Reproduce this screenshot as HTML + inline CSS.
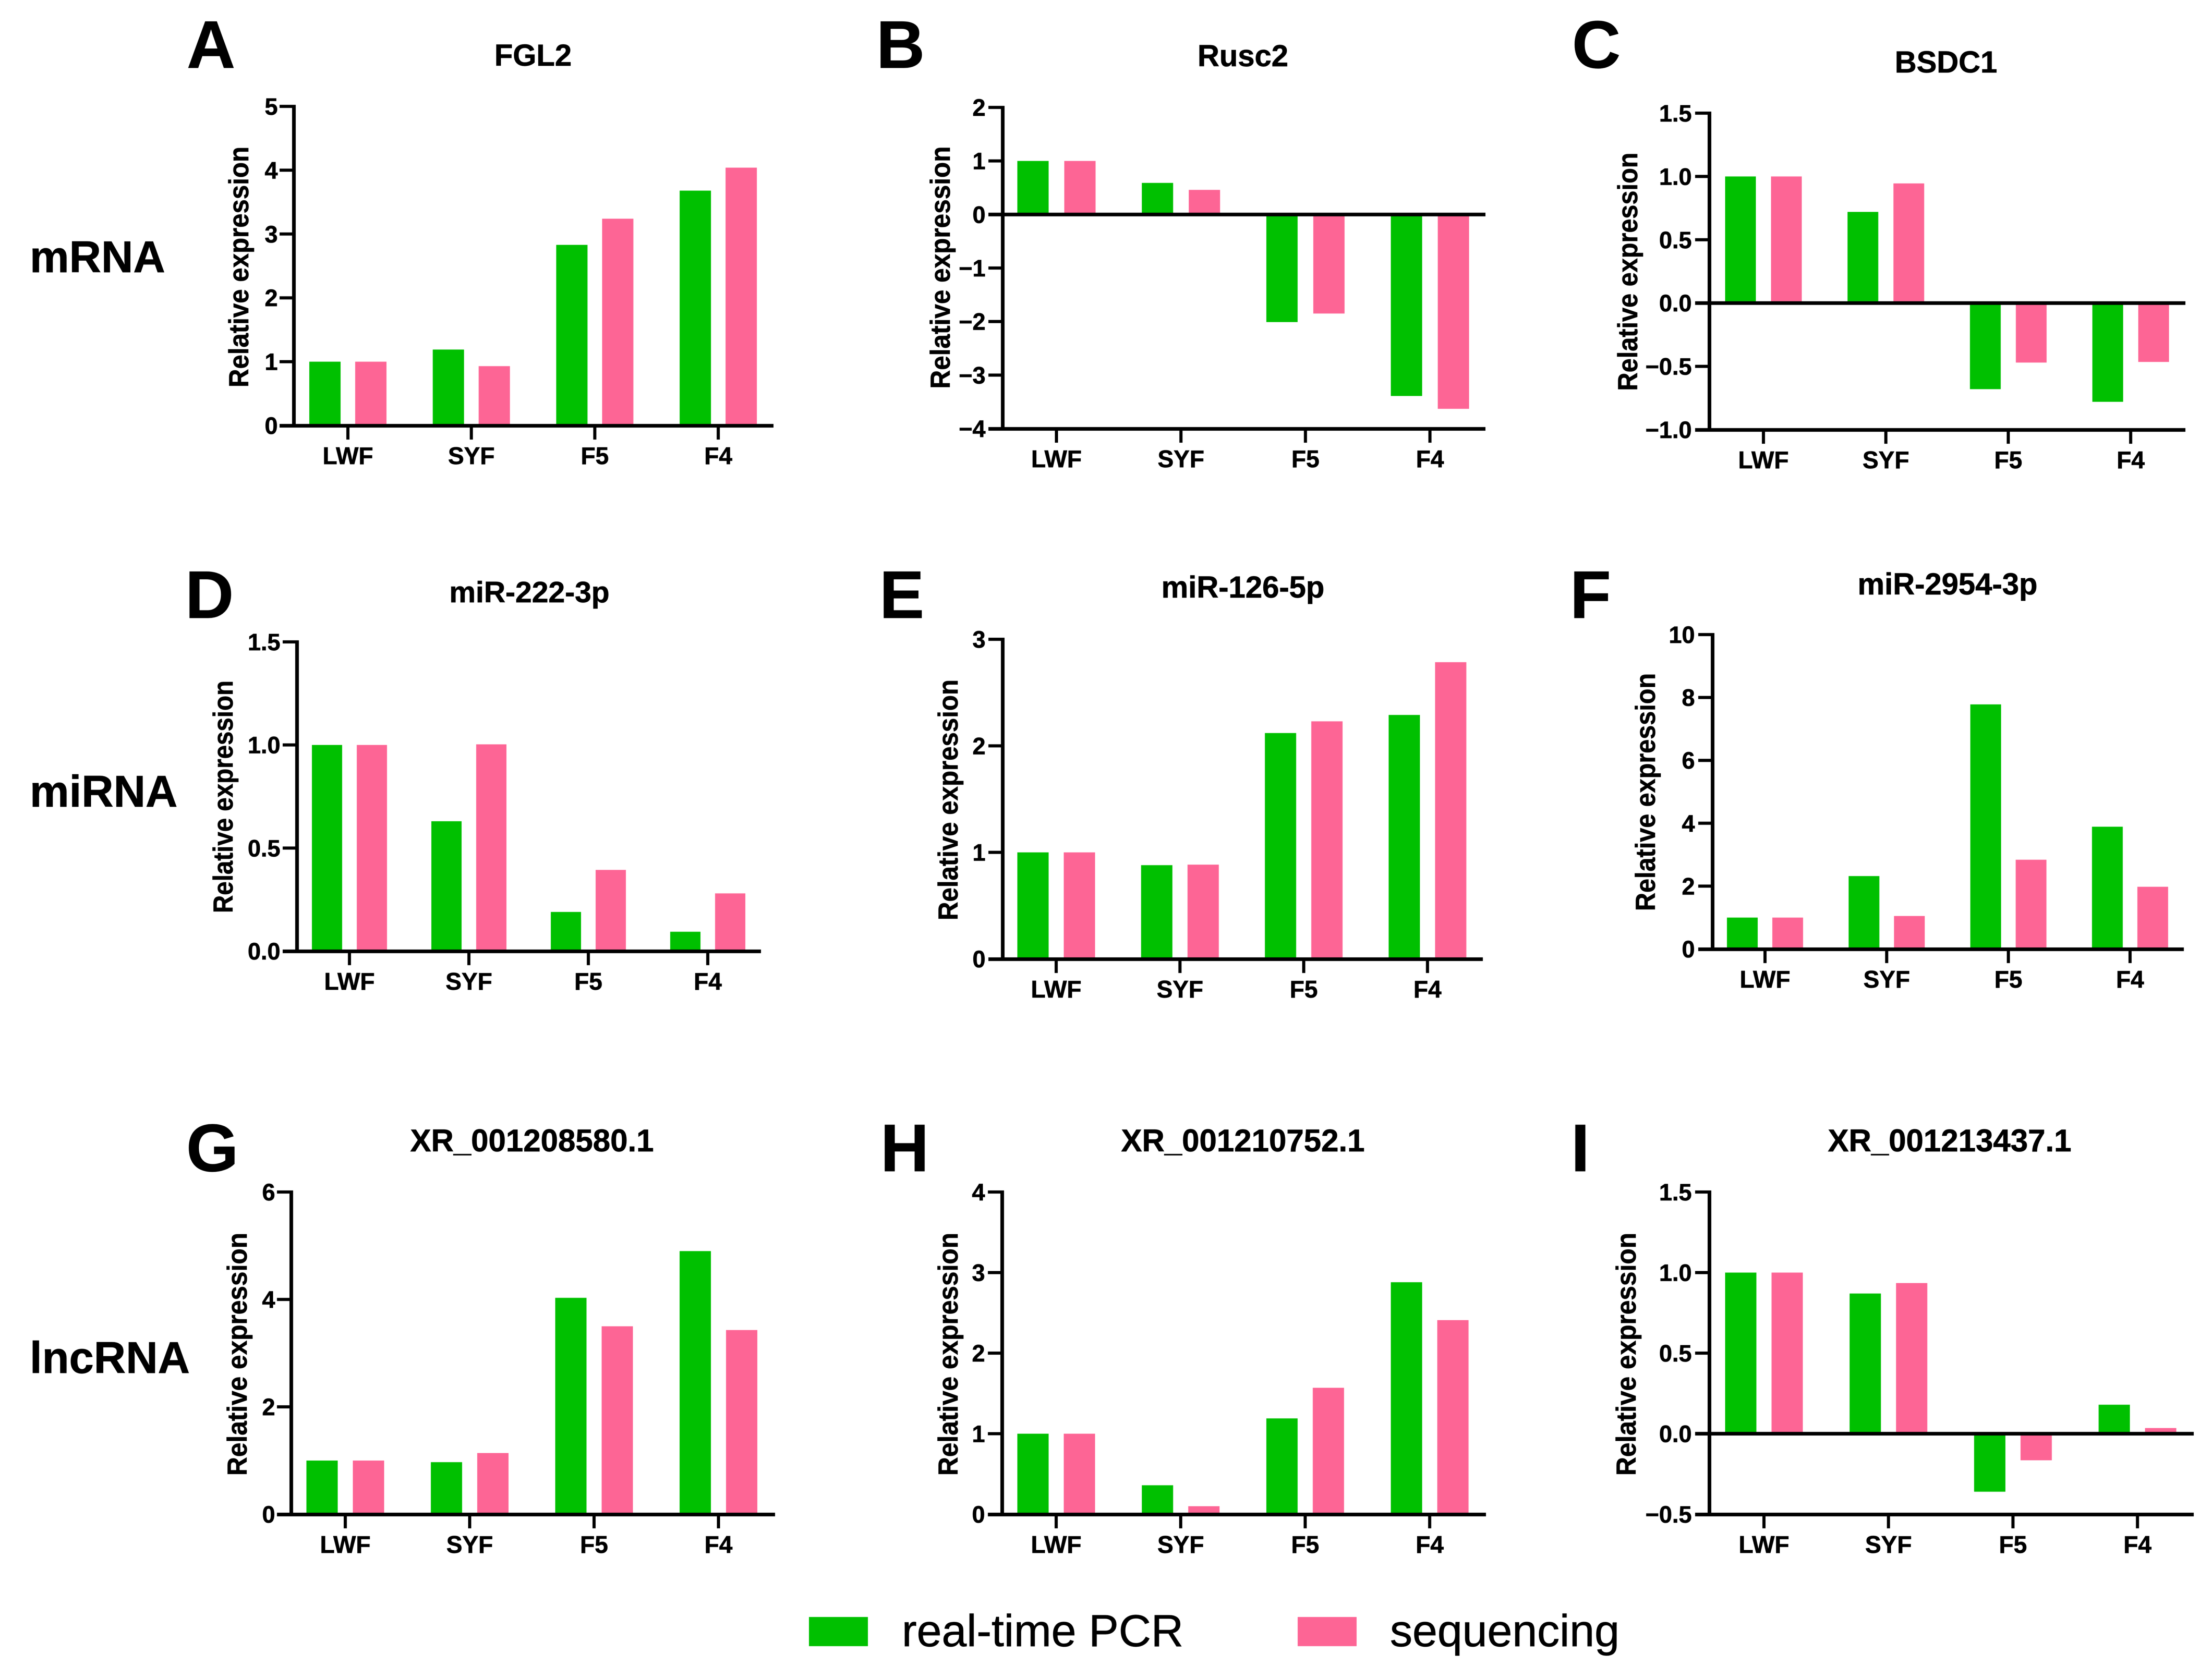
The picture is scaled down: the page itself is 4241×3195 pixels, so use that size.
<!DOCTYPE html>
<html lang="en">
<head>
<meta charset="utf-8">
<title>Relative expression validation: real-time PCR vs sequencing</title>
<style>
html,body{margin:0;padding:0;background:#fff;}
svg{display:block;font-family:"Liberation Sans",Arial,sans-serif;filter:blur(0.8px);}
svg text{stroke:#000;stroke-width:0.7px;}
.letter{font-size:129px;font-weight:700;fill:#000;}
.row{font-size:85px;font-weight:700;fill:#000;}
.title{font-size:58px;font-weight:700;fill:#000;text-anchor:middle;}
.title-long{font-size:60px;}
.legend{font-size:86px;fill:#000;}
</style>
</head>
<body>
<svg id="figure" xmlns="http://www.w3.org/2000/svg" width="4241" height="3195" viewBox="0 0 4241 3195">
  <rect x="0" y="0" width="4241" height="3195" fill="#ffffff"/>

  <text class="row" x="57" y="522">mRNA</text>
  <text class="row" x="57" y="1547">miRNA</text>
  <text class="row" x="57" y="2633">lncRNA</text>

  <g id="panel-a">
    <text class="letter" x="358" y="130">A</text>
    <text class="title" x="1022" y="126">FGL2</text>
  </g>
  <g id="panel-b">
    <text class="letter" x="1680" y="130">B</text>
    <text class="title" x="2383" y="127">Rusc2</text>
  </g>
  <g id="panel-c">
    <text class="letter" x="3014" y="130">C</text>
    <text class="title" x="3731" y="139">BSDC1</text>
  </g>
  <g id="panel-d">
    <text class="letter" x="355" y="1185">D</text>
    <text class="title" x="1015" y="1155" style="font-size:57px">miR-222-3p</text>
  </g>
  <g id="panel-e">
    <text class="letter" x="1686" y="1185">E</text>
    <text class="title" x="2383" y="1146">miR-126-5p</text>
  </g>
  <g id="panel-f">
    <text class="letter" x="3010" y="1185">F</text>
    <text class="title" x="3734" y="1140">miR-2954-3p</text>
  </g>
  <g id="panel-g">
    <text class="letter" x="357" y="2246">G</text>
    <text class="title title-long" x="1020" y="2208">XR_001208580.1</text>
  </g>
  <g id="panel-h">
    <text class="letter" x="1688" y="2246">H</text>
    <text class="title title-long" x="2383" y="2208">XR_001210752.1</text>
  </g>
  <g id="panel-i">
    <text class="letter" x="3012" y="2246">I</text>
    <text class="title title-long" x="3738" y="2208">XR_001213437.1</text>
  </g>

  <g id="legend">
    <rect x="1551" y="3101" width="113" height="56" fill="#00C000"/>
    <text class="legend" x="1729" y="3157">real-time PCR</text>
    <rect x="2488" y="3101" width="113" height="56" fill="#FD6595"/>
    <text class="legend" x="2665" y="3157">sequencing</text>
  </g>
</svg>

<script>
// Data
const categories = ['LWF', 'SYF', 'F5', 'F4'];

const fgl2Pcr = [1, 1.19, 2.83, 3.68];
const fgl2Seq = [1, 0.93, 3.24, 4.04];
const fgl2Ticks = [0, 1, 2, 3, 4, 5];

const rusc2Pcr = [1, 0.59, -2.01, -3.39];
const rusc2Seq = [1, 0.46, -1.85, -3.63];
const rusc2Ticks = [-4, -3, -2, -1, 0, 1, 2];

const bsdc1Pcr = [1, 0.72, -0.68, -0.78];
const bsdc1Seq = [1, 0.945, -0.47, -0.465];
const bsdc1Ticks = [-1, -0.5, 0, 0.5, 1, 1.5];

const mir222Pcr = [1, 0.63, 0.19, 0.094];
const mir222Seq = [1, 1.003, 0.394, 0.28];
const mir222Ticks = [0, 0.5, 1, 1.5];

const mir126Pcr = [1, 0.88, 2.12, 2.29];
const mir126Seq = [1, 0.885, 2.23, 2.785];
const mir126Ticks = [0, 1, 2, 3];

const mir2954Pcr = [1, 2.32, 7.78, 3.89];
const mir2954Seq = [1, 1.05, 2.84, 1.98];
const mir2954Ticks = [0, 2, 4, 6, 8, 10];

const xr580Pcr = [1, 0.97, 4.03, 4.9];
const xr580Seq = [1, 1.14, 3.5, 3.43];
const xr580Ticks = [0, 2, 4, 6];

const xr752Pcr = [1, 0.36, 1.19, 2.88];
const xr752Seq = [1, 0.1, 1.57, 2.41];
const xr752Ticks = [0, 1, 2, 3, 4];

const xr437Pcr = [1, 0.87, -0.36, 0.18];
const xr437Seq = [1, 0.935, -0.165, 0.035];
const xr437Ticks = [-0.5, 0, 0.5, 1, 1.5];

const axisTitle = 'Relative expression';
const GREEN = '#00C000';
const PINK = '#FD6595';
const SVGNS = 'http://www.w3.org/2000/svg';

function make(parent, tag, props, text) {
  const el = document.createElementNS(SVGNS, tag);
  for (const k in props) el.setAttribute(k, props[k]);
  if (text !== undefined) el.textContent = text;
  parent.appendChild(el);
  return el;
}

function formatTick(v, decimals) {
  return (v < 0 ? '\u2212' : '') + Math.abs(v).toFixed(decimals);
}

function drawChart(id, pcr, seq, ticks, decimals, frame) {
  const root = document.getElementById(id);
  const minV = ticks[0];
  const maxV = ticks[ticks.length - 1];
  const yScale = v => frame.bottom - (v - minV) / (maxV - minV) * (frame.bottom - frame.top);
  const xScale = i => frame.firstCat + i * frame.step;
  const zeroY = yScale(0);

  categories.forEach((cat, i) => {
    const cx = xScale(i);
    [[pcr, GREEN, -1, 'pcr'], [seq, PINK, 1, 'sequencing']].forEach(series => {
      const v = series[0][i];
      const yv = yScale(v);
      const bar = make(root, 'rect', {
        x: cx + series[2] * frame.off - frame.barW / 2,
        y: Math.min(yv, zeroY),
        width: frame.barW,
        height: Math.abs(yv - zeroY),
        fill: series[1]
      });
      
      
    });
  });

  const yAxis = make(root, 'line', {x1: frame.axisX - 0.5, x2: frame.axisX - 0.5, y1: frame.top - 3, y2: frame.bottom + 3, stroke: '#000', 'stroke-width': 7});
  
  

  const xAxis = make(root, 'line', {x1: frame.axisX - 28, x2: frame.endX, y1: frame.bottom + 0.5, y2: frame.bottom + 0.5, stroke: '#000', 'stroke-width': 7});
  
  

  if (minV < 0) {
    const zeroLine = make(root, 'line', {x1: frame.axisX - 28, x2: frame.endX, y1: zeroY, y2: zeroY, stroke: '#000', 'stroke-width': 7});
    
    
  }

  ticks.forEach(t => {
    const y = yScale(t);
    const mark = make(root, 'line', {x1: frame.axisX - 28, x2: frame.axisX, y1: y, y2: y, stroke: '#000', 'stroke-width': 6});
    
    
    const label = make(root, 'text', {
      x: frame.axisX - frame.tickGap, y: y + 16,
      'font-size': 45, 'font-weight': 700, 'text-anchor': 'end', fill: '#000'
    }, formatTick(t, decimals));
    
    
  });

  categories.forEach((cat, i) => {
    const cx = xScale(i);
    const mark = make(root, 'line', {x1: cx, x2: cx, y1: frame.bottom, y2: frame.bottom + 27, stroke: '#000', 'stroke-width': 6});
    
    
    const label = make(root, 'text', {
      x: cx, y: frame.bottom + 74,
      'font-size': 46, 'font-weight': 700, 'text-anchor': 'middle', fill: '#000'
    }, cat);
    
    
  });

  const yTitle = make(root, 'text', {
    x: frame.titleX, y: frame.titleY,
    transform: 'rotate(-90 ' + frame.titleX + ' ' + frame.titleY + ')',
    'font-size': 53, 'font-weight': 700, 'text-anchor': 'middle', fill: '#000',
    textLength: frame.titleLen, lengthAdjust: 'spacingAndGlyphs'
  }, axisTitle);
  
  
}

drawChart('panel-a', fgl2Pcr, fgl2Seq, fgl2Ticks, 0, {axisX: 564, endX: 1483, top: 204, bottom: 816, firstCat: 667, step: 236.7, off: 44, barW: 60, tickGap: 31.5, titleX: 476, titleY: 512, titleLen: 462});
drawChart('panel-b', rusc2Pcr, rusc2Seq, rusc2Ticks, 0, {axisX: 1923, endX: 2848, top: 206, bottom: 822, firstCat: 2025.5, step: 238.7, off: 45, barW: 60, tickGap: 33.5, titleX: 1821, titleY: 513, titleLen: 465});
drawChart('panel-c', bsdc1Pcr, bsdc1Seq, bsdc1Ticks, 1, {axisX: 3278, endX: 4190, top: 217, bottom: 824, firstCat: 3381, step: 234.7, off: 44, barW: 59, tickGap: 34.5, titleX: 3139, titleY: 521, titleLen: 457});
drawChart('panel-d', mir222Pcr, mir222Seq, mir222Ticks, 1, {axisX: 570, endX: 1459, top: 1231, bottom: 1824, firstCat: 670, step: 229, off: 43, barW: 58, tickGap: 32.5, titleX: 446, titleY: 1528, titleLen: 446});
drawChart('panel-e', mir126Pcr, mir126Seq, mir126Ticks, 0, {axisX: 1923, endX: 2843, top: 1226, bottom: 1839, firstCat: 2025, step: 237.3, off: 44.5, barW: 60, tickGap: 33.5, titleX: 1836, titleY: 1534, titleLen: 462});
drawChart('panel-f', mir2954Pcr, mir2954Seq, mir2954Ticks, 0, {axisX: 3284, endX: 4187, top: 1217, bottom: 1820, firstCat: 3384, step: 233.3, off: 43.5, barW: 59, tickGap: 34.5, titleX: 3173, titleY: 1519, titleLen: 456});
drawChart('panel-g', xr580Pcr, xr580Seq, xr580Ticks, 0, {axisX: 559, endX: 1486, top: 2286, bottom: 2904, firstCat: 662, step: 238.5, off: 44.5, barW: 60, tickGap: 31.5, titleX: 473, titleY: 2597, titleLen: 466});
drawChart('panel-h', xr752Pcr, xr752Seq, xr752Ticks, 0, {axisX: 1922, endX: 2849, top: 2286, bottom: 2904, firstCat: 2025, step: 238.7, off: 44.5, barW: 60, tickGap: 33.5, titleX: 1836, titleY: 2597, titleLen: 466});
drawChart('panel-i', xr437Pcr, xr437Seq, xr437Ticks, 1, {axisX: 3278, endX: 4206, top: 2286, bottom: 2904, firstCat: 3382, step: 238.7, off: 44.5, barW: 60, tickGap: 34.5, titleX: 3136, titleY: 2597, titleLen: 466});
</script>
</body>
</html>
